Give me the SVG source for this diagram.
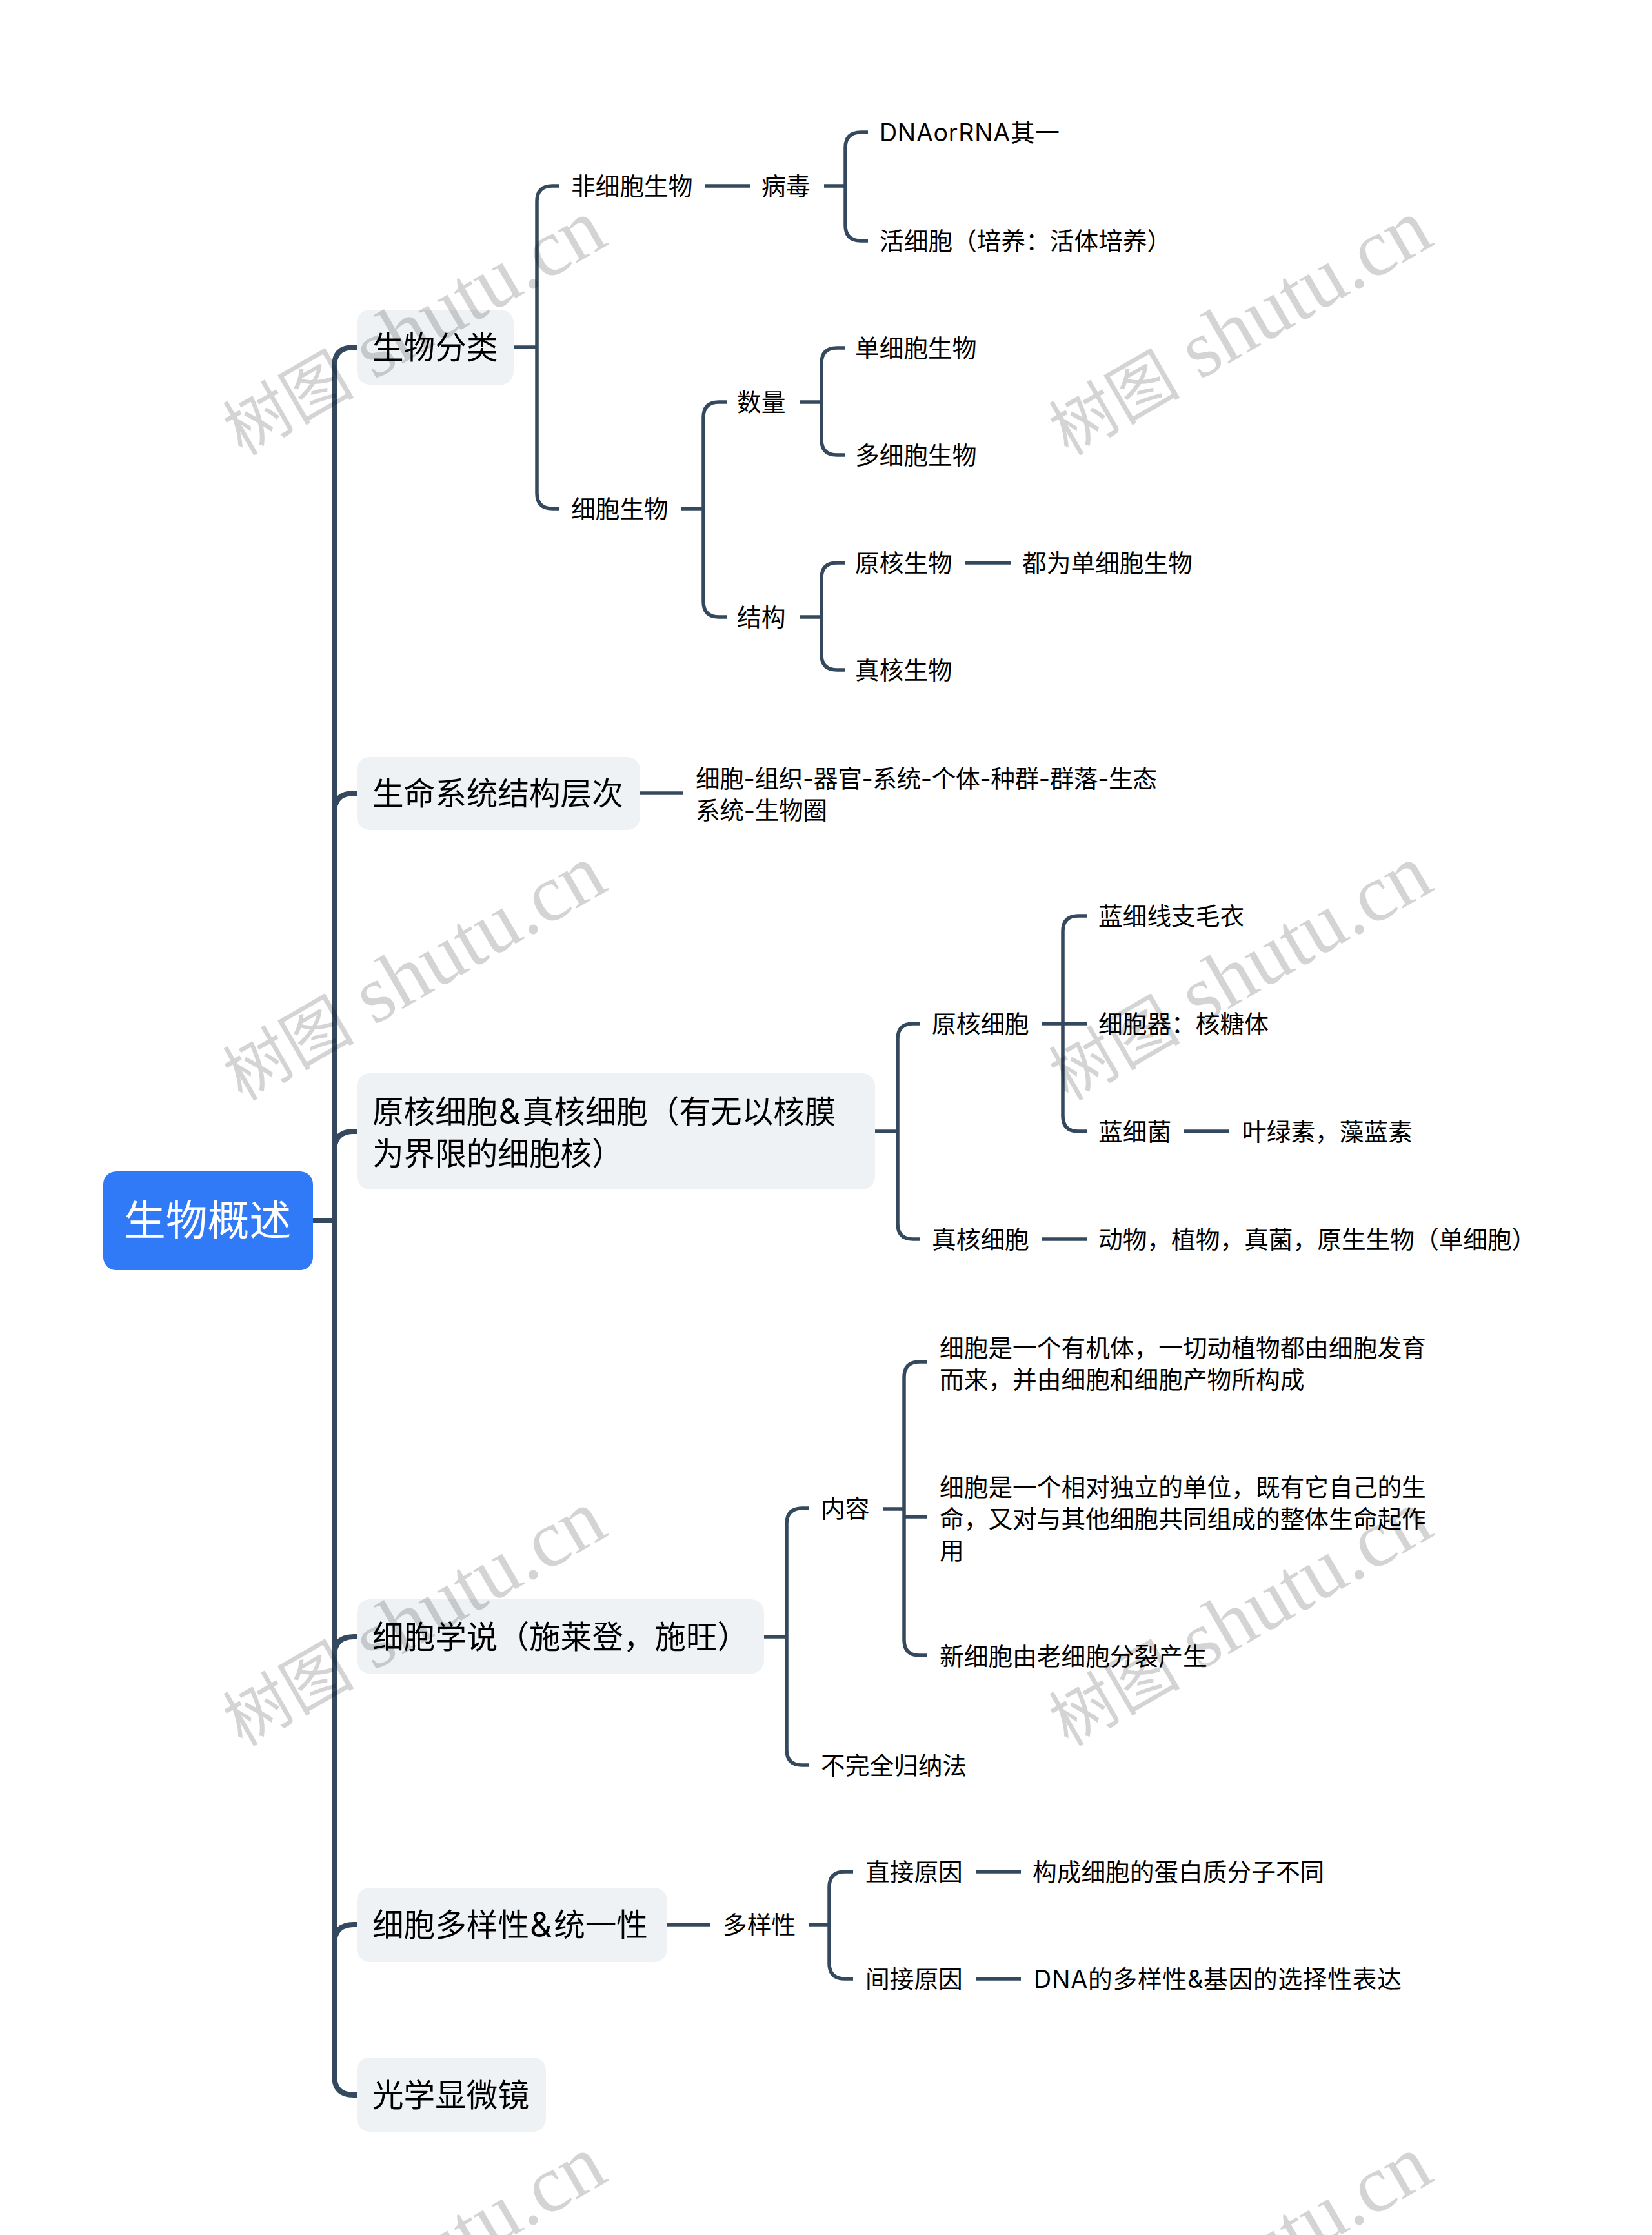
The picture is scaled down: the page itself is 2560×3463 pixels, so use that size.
<svg xmlns="http://www.w3.org/2000/svg" width="2560" height="3463" viewBox="0 0 2560 3463">
<style>
text{font-family:Inter,"Noto Sans CJK SC",sans-serif;fill:#000;dominant-baseline:central}
.r{font-size:64.8px;fill:#fff}
.t{font-size:48.6px}
.s{font-size:37.7px}
.amp{font-size:53px}
.tb{fill:#eef2f5}
.l0{fill:none;stroke:#34495e;stroke-width:8}
.l1{fill:none;stroke:#34495e;stroke-width:5.5}
.wm{font-family:"Liberation Serif","Noto Sans CJK SC",serif;font-size:126px;fill:#000;fill-opacity:.17;dominant-baseline:auto}
.wc{font-size:102px}
</style>
<rect width="2560" height="3463" fill="#fff"/>
<g id="connectors">
<path class="l0" d="M485 1891H518M518 568Q518 538 548 538H553M518 1259Q518 1229 548 1229H553M518 1783Q518 1753 548 1753H553M518 568V3216Q518 3246 548 3246H553M518 2566Q518 2536 548 2536H553M518 3012Q518 2982 548 2982H553"/>
<path class="l1" d="M796 538H832M866 288H856Q832 288 832 312V764Q832 788 856 788H866"/>
<path class="l1" d="M1093 288H1163M1277 288H1310M1345 205H1334Q1310 205 1310 229V349Q1310 373 1334 373H1345"/>
<path class="l1" d="M1056 788H1090M1126 623H1114Q1090 623 1090 647V932Q1090 956 1114 956H1126"/>
<path class="l1" d="M1239 623H1273M1310 539H1297Q1273 539 1273 563V681Q1273 705 1297 705H1310"/>
<path class="l1" d="M1239 956H1273M1310 872H1297Q1273 872 1273 896V1014Q1273 1038 1297 1038H1310M1495 872H1566"/>
<path class="l1" d="M992 1229H1059"/>
<path class="l1" d="M1356 1753H1391M1425 1586H1415Q1391 1586 1391 1610V1896Q1391 1920 1415 1920H1425"/>
<path class="l1" d="M1614 1586H1684M1684 1419H1671Q1647 1419 1647 1443V1729Q1647 1753 1671 1753H1684M1834 1753H1904M1614 1920H1684"/>
<path class="l1" d="M1184 2536H1219M1254 2337H1243Q1219 2337 1219 2361V2711Q1219 2735 1243 2735H1254"/>
<path class="l1" d="M1368 2338H1401M1436 2110H1425Q1401 2110 1401 2134V2541Q1401 2565 1425 2565H1436M1401 2350H1436"/>
<path class="l1" d="M1034 2982H1101M1253 2982H1285M1322 2900H1309Q1285 2900 1285 2924V3042Q1285 3066 1309 3066H1322M1513 2900H1582M1513 3066H1582"/>
</g>
<g id="root"><rect x="160" y="1815" width="325" height="153" rx="20" fill="#3079f7"/><text class="r" x="192" y="1890">生物概述</text></g>
<g id="t1"><rect class="tb" x="553" y="480" width="243" height="116" rx="20"/><text class="t" x="577" y="538">生物分类</text></g>
<g id="t2"><rect class="tb" x="553" y="1173" width="439" height="113" rx="20"/><text class="t" x="577" y="1229">生命系统结构层次</text></g>
<g id="t3"><rect class="tb" x="553" y="1663" width="803" height="180" rx="20"/><text class="t" x="577" y="1722">原核细胞<tspan class="amp" dx="1">&amp;</tspan><tspan dx="3">真核细胞（有无以核膜</tspan></text><text class="t" x="577" y="1787">为界限的细胞核）</text></g>
<g id="t4"><rect class="tb" x="553" y="2478" width="631" height="115" rx="20"/><text class="t" x="577" y="2536">细胞学说（施莱登，施旺）</text></g>
<g id="t5"><rect class="tb" x="553" y="2925" width="481" height="115" rx="20"/><text class="t" x="577" y="2982">细胞多样性<tspan class="amp" dx="1">&amp;</tspan><tspan dx="3">统一性</tspan></text></g>
<g id="t6"><rect class="tb" x="553" y="3188" width="293" height="115" rx="20"/><text class="t" x="577" y="3246">光学显微镜</text></g>
<g id="n1"><text class="s" x="885" y="288">非细胞生物</text></g>
<g id="n2"><text class="s" x="1180" y="288">病毒</text></g>
<g id="n3"><text class="s" x="1363" y="205" textLength="279">DNAorRNA其一</text></g>
<g id="n4"><text class="s" x="1363" y="373">活细胞（培养：活体培养）</text></g>
<g id="n5"><text class="s" x="885" y="788">细胞生物</text></g>
<g id="n6"><text class="s" x="1142" y="623">数量</text></g>
<g id="n7"><text class="s" x="1325" y="539">单细胞生物</text></g>
<g id="n8"><text class="s" x="1325" y="705">多细胞生物</text></g>
<g id="n9"><text class="s" x="1142" y="956">结构</text></g>
<g id="n10"><text class="s" x="1325" y="872">原核生物</text></g>
<g id="n11"><text class="s" x="1584" y="872">都为单细胞生物</text></g>
<g id="n12"><text class="s" x="1325" y="1038">真核生物</text></g>
<g id="n13"><text class="s" x="1078" y="1206" textLength="715">细胞-组织-器官-系统-个体-种群-群落-生态</text><text class="s" x="1078" y="1255" textLength="204">系统-生物圈</text></g>
<g id="n14"><text class="s" x="1444" y="1586">原核细胞</text></g>
<g id="n15"><text class="s" x="1702" y="1419">蓝细线支毛衣</text></g>
<g id="n16"><text class="s" x="1702" y="1586">细胞器：核糖体</text></g>
<g id="n17"><text class="s" x="1702" y="1753">蓝细菌</text></g>
<g id="n18"><text class="s" x="1925" y="1753">叶绿素，藻蓝素</text></g>
<g id="n19"><text class="s" x="1444" y="1920">真核细胞</text></g>
<g id="n20"><text class="s" x="1702" y="1920">动物，植物，真菌，原生生物（单细胞）</text></g>
<g id="n21"><text class="s" x="1272" y="2337">内容</text></g>
<g id="n22"><text class="s" x="1456" y="2088">细胞是一个有机体，一切动植物都由细胞发育</text><text class="s" x="1456" y="2137">而来，并由细胞和细胞产物所构成</text></g>
<g id="n23"><text class="s" x="1456" y="2304">细胞是一个相对独立的单位，既有它自己的生</text><text class="s" x="1456" y="2353">命，又对与其他细胞共同组成的整体生命起作</text><text class="s" x="1456" y="2402">用</text></g>
<g id="n24"><text class="s" x="1456" y="2566">新细胞由老细胞分裂产生</text></g>
<g id="n25"><text class="s" x="1272" y="2735">不完全归纳法</text></g>
<g id="n26"><text class="s" x="1120" y="2982">多样性</text></g>
<g id="n27"><text class="s" x="1341" y="2900">直接原因</text></g>
<g id="n28"><text class="s" x="1600" y="2900">构成细胞的蛋白质分子不同</text></g>
<g id="n29"><text class="s" x="1341" y="3066">间接原因</text></g>
<g id="n30"><text class="s" x="1602" y="3066" textLength="570">DNA的多样性&amp;基因的选择性表达</text></g>
<g id="watermarks">
<text class="wm" transform="translate(375 707) rotate(-30)"><tspan class="wc">树图</tspan> shutu.cn</text>
<text class="wm" transform="translate(1655 707) rotate(-30)"><tspan class="wc">树图</tspan> shutu.cn</text>
<text class="wm" transform="translate(375 1707) rotate(-30)"><tspan class="wc">树图</tspan> shutu.cn</text>
<text class="wm" transform="translate(1655 1707) rotate(-30)"><tspan class="wc">树图</tspan> shutu.cn</text>
<text class="wm" transform="translate(375 2707) rotate(-30)"><tspan class="wc">树图</tspan> shutu.cn</text>
<text class="wm" transform="translate(1655 2707) rotate(-30)"><tspan class="wc">树图</tspan> shutu.cn</text>
<text class="wm" transform="translate(375 3707) rotate(-30)"><tspan class="wc">树图</tspan> shutu.cn</text>
<text class="wm" transform="translate(1655 3707) rotate(-30)"><tspan class="wc">树图</tspan> shutu.cn</text>
</g>
</svg>
